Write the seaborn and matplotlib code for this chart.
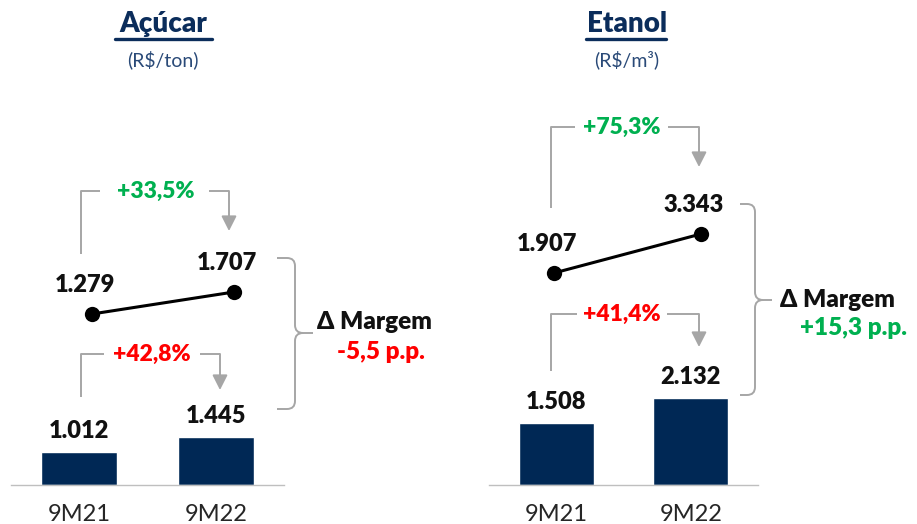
import matplotlib
matplotlib.use('Agg')
import matplotlib.pyplot as plt
import seaborn as sns
import pandas as pd
from matplotlib.path import Path
from matplotlib.patches import PathPatch

# ---------------- data ----------------
periods = ['9M21', '9M22']
acucar_cost = [1012, 1445]
acucar_price = [1279, 1707]
etanol_cost = [1508, 2132]
etanol_price = [1907, 3343]
titles = ['Açúcar', 'Etanol']
units = ['(R$/ton)', '(R$/m³)']
price_var = ['+33,5%', '+75,3%']
cost_var = ['+42,8%', '+41,4%']
margin_var = ['-5,5 p.p.', '+15,3 p.p.']
margin_label = 'Δ Margem'

# ---------------- style ----------------
sns.set_theme(style='white')
plt.rcParams['font.family'] = ['Lato', 'DejaVu Sans']

NAVY = '#002855'
TITLE = '#0b2d5b'
SUB = '#2a4a78'
GRAY = '#a6a6a6'
GREEN = '#00b050'
RED = '#ff0000'
DARK = '#111111'
WT = 'heavy'

W, H = 917, 524
fig = plt.figure(figsize=(W / 100, H / 100), dpi=100)


def P(x, y):
    return (x / W, 1 - y / H)


def ax_px(x0, y0, x1, y1):
    return fig.add_axes([x0 / W, 1 - y1 / H, (x1 - x0) / W, (y1 - y0) / H])


def fmt(v):
    return f"{v:,}".replace(',', '.')


def fline(xs, ys):
    fig.add_artist(plt.Line2D([x / W for x in xs], [1 - y / H for y in ys],
                              color=GRAY, lw=1.4, transform=fig.transFigure,
                              solid_capstyle='butt'))


def farrow(x, y0, y1):
    fig.add_artist(matplotlib.patches.FancyArrowPatch(
        P(x, y0), P(x, y1), transform=fig.transFigure,
        arrowstyle='-|>,head_length=0.75,head_width=0.38', mutation_scale=12,
        color=GRAY, lw=1.4, shrinkA=0, shrinkB=0))


def bracket(vx, ystart, ybr, hend1, tx, hstart2, ax_, tip, text, color):
    fline([vx, vx, hend1], [ystart, ybr, ybr])
    fline([hstart2, ax_], [ybr, ybr])
    farrow(ax_, ybr, tip)
    fig.text(*P(tx, ybr), text, ha='center', va='center', fontsize=16.5,
             fontweight=WT, color=color)


def brace(xe, xs, xt, yt, ym, yb, r=8):
    pts = [(xe, yt), (xs - r, yt), (xs, yt), (xs, yt + r), (xs, ym - r),
           (xs, ym), (xs + r, ym), (xt, ym),
           (xs + r, ym), (xs, ym), (xs, ym + r), (xs, yb - r),
           (xs, yb), (xs - r, yb), (xe, yb)]
    codes = [Path.MOVETO, Path.LINETO, Path.CURVE3, Path.CURVE3, Path.LINETO,
             Path.CURVE3, Path.CURVE3, Path.LINETO,
             Path.MOVETO, Path.CURVE3, Path.CURVE3, Path.LINETO,
             Path.CURVE3, Path.CURVE3, Path.LINETO]
    path = Path([P(x, y) for x, y in pts], codes)
    fig.add_artist(PathPatch(path, fill=False, edgecolor=GRAY, lw=1.4,
                             transform=fig.transFigure))


panels = [
    dict(cost=acucar_cost, price=acucar_price,
         bar_box=(11, 185, 284, 485), bar_ylim=9090,
         line_box=(21, 100, 305, 485), line_ylim=(-2047, 5441),
         title_x=163, ul=(115, 212),
         top=(81, 254, 191, 100, 156, 209, 229, 231),
         bot=(81, 397, 354, 104, 152, 200, 220, 390),
         brace=(277, 295, 313, 258, 333, 409),
         mlabel=(317, 322), mval=(337, 352), mcolor=RED),
    dict(cost=etanol_cost, price=etanol_price,
         bar_box=(489, 185, 758, 485), bar_ylim=7320,
         line_box=(480.5, 100, 774.5, 485), line_ylim=(-5895, 8273),
         title_x=627, ul=(586, 666),
         top=(551, 208, 127, 575, 622, 668, 699, 167),
         bot=(551, 371, 314, 577, 622, 667, 699, 347),
         brace=(740, 755, 772, 204, 300, 395),
         mlabel=(780, 300), mval=(800, 328), mcolor=GREEN),
]

for i, p in enumerate(panels):
    # bars
    ax = ax_px(*p['bar_box'])
    df = pd.DataFrame({'period': periods, 'value': p['cost']})
    sns.barplot(data=df, x='period', y='value', ax=ax, color=NAVY,
                saturation=1, width=0.555)
    ax.set_xlim(-0.5, 1.5)
    ax.set_ylim(0, p['bar_ylim'])
    ax.set_facecolor('none')
    for s in ['top', 'right', 'left']:
        ax.spines[s].set_visible(False)
    ax.spines['bottom'].set_color('#bfbfbf')
    ax.spines['bottom'].set_linewidth(1.0)
    ax.set_yticks([])
    ax.set_xlabel('')
    ax.set_ylabel('')
    ax.tick_params(axis='x', length=0, pad=14, labelsize=17,
                   labelcolor='#262626')
    for j, v in enumerate(p['cost']):
        ax.annotate(fmt(v), (j, v), xytext=(0, 15), textcoords='offset points',
                    ha='center', va='center', fontsize=17, fontweight=WT,
                    color=DARK)

    # line
    lax = ax_px(*p['line_box'])
    ldf = pd.DataFrame({'x': [0, 1], 'value': p['price']})
    sns.lineplot(data=ldf, x='x', y='value', ax=lax, color='black', lw=2.2,
                 marker='o', markersize=11, markeredgewidth=0)
    lax.set_xlim(-0.5, 1.5)
    lax.set_ylim(*p['line_ylim'])
    lax.axis('off')
    lax.patch.set_alpha(0)
    for j, v in enumerate(p['price']):
        lax.annotate(fmt(v), (j, v), xytext=(-5, 21), textcoords='offset points',
                     ha='center', va='center', fontsize=17, fontweight=WT,
                     color=DARK)

    # titles
    fig.text(*P(p['title_x'], 24), titles[i], ha='center', va='center',
             fontsize=20, fontweight=WT, color=TITLE)
    fig.add_artist(plt.Line2D([p['ul'][0] / W, p['ul'][1] / W],
                              [1 - 39 / H, 1 - 39 / H], color=TITLE, lw=2.4,
                              transform=fig.transFigure))
    fig.text(*P(p['title_x'], 60), units[i], ha='center', va='center',
             fontsize=14, color=SUB)

    # brackets
    bracket(*p['top'], price_var[i], GREEN)
    bracket(*p['bot'], cost_var[i], RED)
    brace(*p['brace'])
    fig.text(*P(*p['mlabel']), margin_label, ha='left', va='center',
             fontsize=17.5, fontweight=WT, color=DARK)
    fig.text(*P(*p['mval']), margin_var[i], ha='left', va='center',
             fontsize=17.5, fontweight=WT, color=p['mcolor'])

fig.savefig('out.png', dpi=100)
